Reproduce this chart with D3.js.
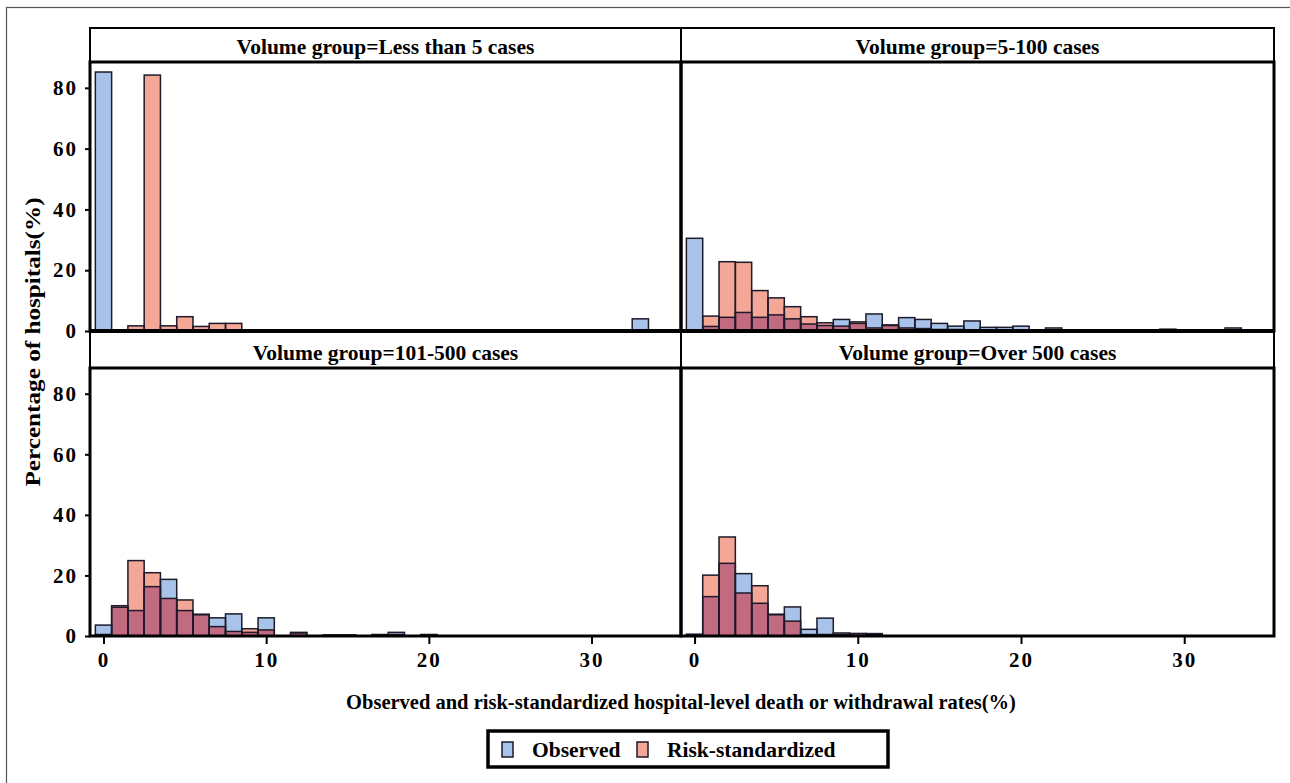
<!DOCTYPE html>
<html>
<head>
<meta charset="utf-8">
<script src="https://cdn.jsdelivr.net/npm/d3@7"></script>
<style>
  body { margin: 0; background: #fff; }
  text { font-family: "Liberation Serif", "Times New Roman", serif; font-weight: bold; fill: #000; }
</style>
</head>
<body>
<svg id="chart"></svg>
<script>
// panel titles, in reading order
var panelTitles = [
  "Volume group=Less than 5 cases",
  "Volume group=5-100 cases",
  "Volume group=101-500 cases",
  "Volume group=Over 500 cases"
];

// percentage of hospitals per 1%-wide bin, bins centred on 0,1,2,...
var obsLess5  = [85.2,0,0,0,0,0,0,0,0,0,0,0.3,0,0,0.3,0,0,0,0,0,0,0,0,0,0,0.3,0,0,0,0,0,0,0,4.0];
var riskLess5 = [0,0,1.7,84.2,1.7,4.7,1.5,2.5,2.5];

var obs5to100  = [30.5,1.5,4.5,6.1,4.5,5.3,4.0,2.3,1.8,3.8,2.5,5.6,1.8,4.4,3.8,2.5,1.6,3.3,1.2,1.2,1.6,0,1.0,0,0,0,0,0,0,0.6,0,0,0,1.0];
var risk5to100 = [0,4.9,22.8,22.6,13.3,10.9,8.0,4.7,2.7,1.6,3.0,1.0,2.0,1.0,0.8,0.5,0.5,0.3];

var obs101to500  = [3.6,9.5,8.4,16.3,18.7,8.4,7.0,6.0,7.3,1.2,6.0,0,1.0,0,0.3,0.3,0,0.5,1.2,0,0.5];
var risk101to500 = [0.5,10.0,24.9,20.9,12.4,11.9,7.2,3.1,1.5,2.4,2.0,0,1.2,0,0.3,0.3,0,0.3,0.5,0,0.3];

var obsOver500  = [0.6,13.0,24.0,20.6,10.8,7.0,9.6,2.2,5.9,0.5,0.8,0.8];
var riskOver500 = [0.3,20.1,32.7,14.2,16.6,7.2,4.9,0.5,0.5,1.0,0.8,0.5];

var observed = [obsLess5, obs5to100, obs101to500, obsOver500];
var riskStd  = [riskLess5, risk5to100, risk101to500, riskOver500];

var xTicks = [0, 10, 20, 30];
var yTicks = [0, 20, 40, 60, 80];
var seriesNames = ["Observed", "Risk-standardized"];

/*
  Layout
 */
var W = 1290, H = 783;
var cols = [{x0: 90, x1: 681}, {x0: 681, x1: 1274}];
var rows = [{head: 28, top: 62, bottom: 331}, {head: 331, top: 368, bottom: 636}];
var colBlue = "#a7c3ea", colRed = "#f4a797", colBoth = "#c26a80", edge = "#1d1a2a";

var svg = d3.select("#chart").attr("width", W).attr("height", H);

// thin outer frame, only top and left visible
svg.append("rect").attr("x", 6.5).attr("y", 7.5).attr("width", W).attr("height", H)
  .attr("fill", "none").attr("stroke", "#555").attr("stroke-width", 1.2);

panelTitles.forEach(function(title, i) {
  var c = cols[i % 2], r = rows[Math.floor(i / 2)];
  var x = d3.scaleLinear().domain([-0.83, 35.5]).range([c.x0, c.x1]);
  var y = d3.scaleLinear().domain([0, 88.5]).range([r.bottom, r.top]);
  var g = svg.append("g");
  var bw = x(1) - x(0);

  var obs = observed[i], rsk = riskStd[i];
  var n = Math.max(obs.length, rsk.length);
  var bins = d3.range(n).map(function(b) {
    return {b: b, o: obs[b] || 0, r: rsk[b] || 0};
  });

  // fills: observed, risk-standardized, then the overlapping part
  g.selectAll(".fo").data(bins.filter(function(d) { return d.o > 0; })).join("rect")
    .attr("x", function(d) { return x(d.b - 0.5); }).attr("width", bw)
    .attr("y", function(d) { return y(d.o); })
    .attr("height", function(d) { return y(0) - y(d.o); })
    .attr("fill", colBlue);
  g.selectAll(".fr").data(bins.filter(function(d) { return d.r > 0; })).join("rect")
    .attr("x", function(d) { return x(d.b - 0.5); }).attr("width", bw)
    .attr("y", function(d) { return y(d.r); })
    .attr("height", function(d) { return y(0) - y(d.r); })
    .attr("fill", colRed);
  g.selectAll(".fb").data(bins.filter(function(d) { return Math.min(d.o, d.r) > 0; })).join("rect")
    .attr("x", function(d) { return x(d.b - 0.5); }).attr("width", bw)
    .attr("y", function(d) { return y(Math.min(d.o, d.r)); })
    .attr("height", function(d) { return y(0) - y(Math.min(d.o, d.r)); })
    .attr("fill", colBoth);

  // outlines of both series
  [obs, rsk].forEach(function(vals) {
    g.append("g").selectAll("rect").data(bins.filter(function(d, k) { return vals[k] > 0; })).join("rect")
      .attr("x", function(d) { return x(d.b - 0.5); }).attr("width", bw)
      .attr("y", function(d) { return y(vals[d.b]); })
      .attr("height", function(d) { return y(0) - y(vals[d.b]); })
      .attr("fill", "none").attr("stroke", edge).attr("stroke-width", 1.5);
  });

  // header box and title
  svg.append("rect").attr("x", c.x0).attr("y", r.head).attr("width", c.x1 - c.x0).attr("height", r.top - r.head)
    .attr("fill", "none").attr("stroke", "#000").attr("stroke-width", 2);
  svg.append("text").attr("x", (c.x0 + c.x1) / 2).attr("y", r.top - 8)
    .attr("text-anchor", "middle").attr("font-size", 21.5).text(title);

  // plot frame
  svg.append("rect").attr("x", c.x0).attr("y", r.top).attr("width", c.x1 - c.x0).attr("height", r.bottom - r.top)
    .attr("fill", "none").attr("stroke", "#000").attr("stroke-width", 3);

  // y axis on the left column
  if (i % 2 === 0) {
    var ya = svg.append("g").attr("transform", "translate(" + c.x0 + ",0)")
      .call(d3.axisLeft(y).tickValues(yTicks).tickSize(5).tickPadding(7));
    ya.select(".domain").remove();
    ya.selectAll("line").attr("stroke", "#000").attr("stroke-width", 2);
    ya.selectAll("text").attr("font-size", 21).attr("letter-spacing", 2)
      .attr("font-family", "Liberation Serif").attr("font-weight", "bold");
  }
  // x axis on the bottom row
  if (i >= 2) {
    var xa = svg.append("g").attr("transform", "translate(0," + r.bottom + ")")
      .call(d3.axisBottom(x).tickValues(xTicks).tickSize(8).tickPadding(8));
    xa.select(".domain").remove();
    xa.selectAll("line").attr("stroke", "#000").attr("stroke-width", 2);
    xa.selectAll("text").attr("font-size", 21).attr("letter-spacing", 2)
      .attr("font-family", "Liberation Serif").attr("font-weight", "bold");
  }
});

// the thick row divider
svg.append("line").attr("x1", cols[0].x0).attr("x2", cols[1].x1).attr("y1", rows[0].bottom).attr("y2", rows[0].bottom)
  .attr("stroke", "#000").attr("stroke-width", 4);

/*
  Axis titles
 */
svg.append("text").attr("transform", "translate(40,342) rotate(-90) scale(1.2,1)")
  .attr("text-anchor", "middle").attr("font-size", 21).text("Percentage of hospitals(%)");
svg.append("text").attr("x", 681).attr("y", 709)
  .attr("text-anchor", "middle").attr("font-size", 20.5)
  .text("Observed and risk-standardized hospital-level death or withdrawal rates(%)");

/*
  Legend
 */
var lg = svg.append("g");
lg.append("rect").attr("x", 488).attr("y", 731).attr("width", 400).attr("height", 36)
  .attr("fill", "#fff").attr("stroke", "#000").attr("stroke-width", 3.5);
var legendX = [502, 637];
seriesNames.forEach(function(name, k) {
  lg.append("rect").attr("x", legendX[k]).attr("y", 742).attr("width", 11).attr("height", 15)
    .attr("fill", k === 0 ? colBlue : colRed).attr("stroke", edge).attr("stroke-width", 1.5);
  lg.append("text").attr("x", legendX[k] + 30).attr("y", 757).attr("font-size", 21.5).text(name);
});
</script>
</body>
</html>
